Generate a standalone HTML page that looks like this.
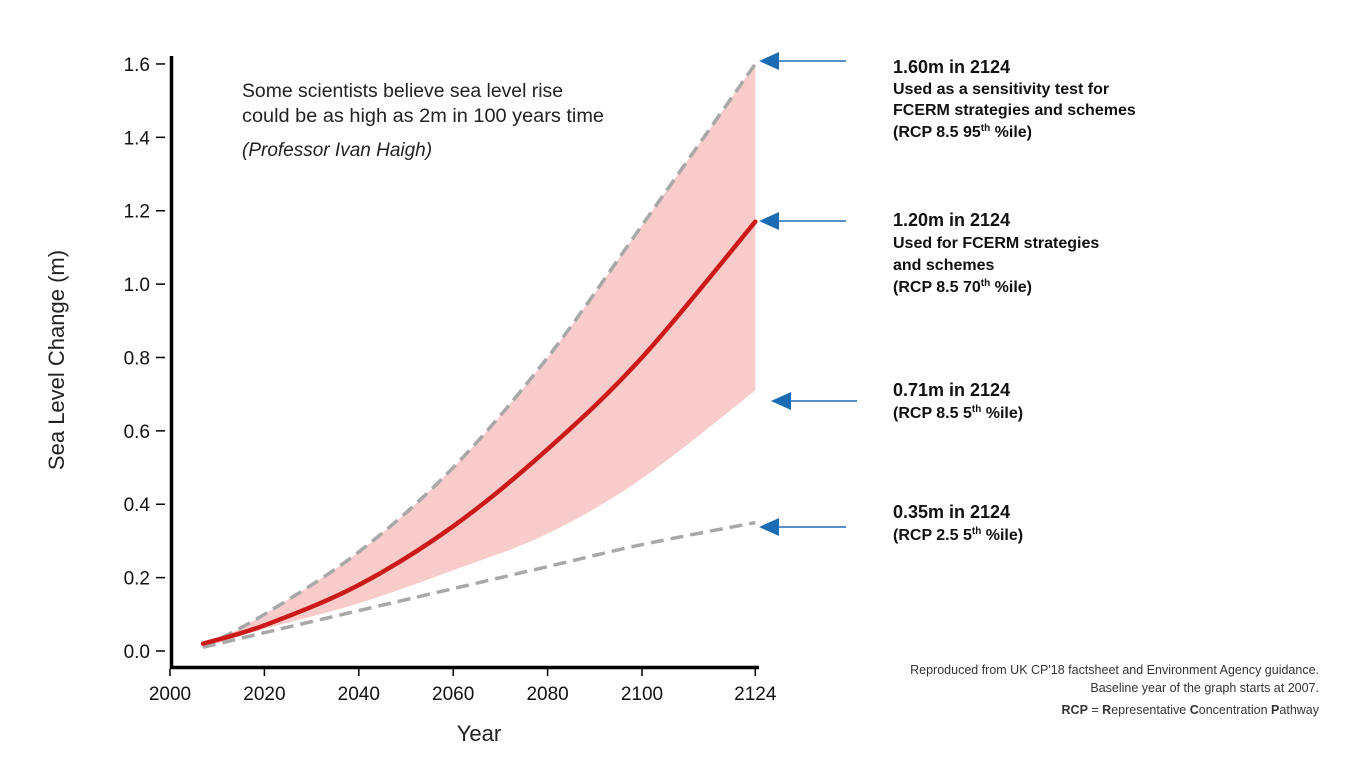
<!DOCTYPE html>
<html><head><meta charset="utf-8"><style>
html,body{margin:0;padding:0;background:#fff;}
svg{display:block;font-family:"Liberation Sans",sans-serif;}
</style></head><body>
<svg id="chart" width="1355" height="771" viewBox="0 0 1355 771" xmlns="http://www.w3.org/2000/svg">
<g id="plot"></g>
<text transform="translate(64,360) rotate(-90)" text-anchor="middle" font-size="22" fill="#222">Sea Level Change (m)</text>
<text x="479" y="741" text-anchor="middle" font-size="22" fill="#222">Year</text>
<g font-size="19" fill="#222">
<text x="242" y="97" textLength="321" lengthAdjust="spacingAndGlyphs">Some scientists believe sea level rise</text>
<text x="242" y="122" textLength="362" lengthAdjust="spacingAndGlyphs">could be as high as 2m in 100 years time</text>
<text x="242" y="156" font-style="italic">(Professor Ivan Haigh)</text>
</g>
<g fill="#111">
<text x="893" y="73" font-size="18" font-weight="bold">1.60m in 2124</text>
<text x="893" y="94" font-size="16" font-weight="bold">Used as a sensitivity test for</text>
<text x="893" y="115" font-size="16" font-weight="bold">FCERM strategies and schemes</text>
<text x="893" y="137" font-size="16" font-weight="bold">(RCP 8.5 95<tspan font-size="10" dy="-6">th</tspan><tspan dy="6"> %ile)</tspan></text>
</g>
<g fill="#111">
<text x="893" y="226" font-size="18" font-weight="bold">1.20m in 2124</text>
<text x="893" y="248" font-size="16" font-weight="bold">Used for FCERM strategies</text>
<text x="893" y="270" font-size="16" font-weight="bold">and schemes</text>
<text x="893" y="292" font-size="16" font-weight="bold">(RCP 8.5 70<tspan font-size="10" dy="-6">th</tspan><tspan dy="6"> %ile)</tspan></text>
</g>
<g fill="#111">
<text x="893" y="396" font-size="18" font-weight="bold">0.71m in 2124</text>
<text x="893" y="418" font-size="16" font-weight="bold">(RCP 8.5 5<tspan font-size="10" dy="-6">th</tspan><tspan dy="6"> %ile)</tspan></text>
</g>
<g fill="#111">
<text x="893" y="518" font-size="18" font-weight="bold">0.35m in 2124</text>
<text x="893" y="540" font-size="16" font-weight="bold">(RCP 2.5 5<tspan font-size="10" dy="-6">th</tspan><tspan dy="6"> %ile)</tspan></text>
</g>
<g font-size="12.5" fill="#333" text-anchor="end">
<text x="1319" y="674">Reproduced from UK CP'18 factsheet and Environment Agency guidance.</text>
<text x="1319" y="692">Baseline year of the graph starts at 2007.</text>
<text x="1319" y="714"><tspan font-weight="bold">RCP</tspan> = <tspan font-weight="bold">R</tspan>epresentative <tspan font-weight="bold">C</tspan>oncentration <tspan font-weight="bold">P</tspan>athway</text>
</g>
<g fill="#1a6db5" stroke="#1a6db5">
<line x1="775" y1="61" x2="846" y2="61" stroke-width="1.5"/><polygon points="759,61 779,52 779,70" stroke="none"/>
<line x1="775" y1="221" x2="846" y2="221" stroke-width="1.5"/><polygon points="759,221 779,212 779,230" stroke="none"/>
<line x1="787" y1="401" x2="857" y2="401" stroke-width="1.5"/><polygon points="771,401 791,392 791,410" stroke="none"/>
<line x1="775" y1="527" x2="846" y2="527" stroke-width="1.5"/><polygon points="759,527 779,518 779,536" stroke="none"/>
</g>
</svg>
<script>
const years = [2007, 2020, 2040, 2060, 2080, 2100, 2124];
const upper95 = [0.01, 0.10, 0.27, 0.50, 0.80, 1.16, 1.60];
const median70 = [0.02, 0.07, 0.18, 0.34, 0.55, 0.80, 1.17];
const lower5 = [0.01, 0.06, 0.13, 0.22, 0.32, 0.47, 0.71];
const rcp25 = [0.01, 0.05, 0.11, 0.17, 0.23, 0.29, 0.35];
const xTicks = [2000, 2020, 2040, 2060, 2080, 2100, 2124];
const yTicks = [0.0, 0.2, 0.4, 0.6, 0.8, 1.0, 1.2, 1.4, 1.6];

const NS = "http://www.w3.org/2000/svg";
const plot = document.getElementById('plot');
function X(yr){ return 170 + (yr - 2000) * 4.72; }
function Y(v){ return 651 - v * 366.9; }
function mk(tag, attrs){ const e = document.createElementNS(NS, tag); for (const k in attrs) e.setAttribute(k, attrs[k]); plot.appendChild(e); return e; }
function smooth(xs, vs){
  const p = xs.map((x,i)=>[X(x),Y(vs[i])]);
  let d = 'M' + p[0][0] + ',' + p[0][1];
  for (let i=0;i<p.length-1;i++){
    const p0=p[Math.max(i-1,0)], p1=p[i], p2=p[i+1], p3=p[Math.min(i+2,p.length-1)];
    const c1=[p1[0]+(p2[0]-p0[0])/6, p1[1]+(p2[1]-p0[1])/6];
    const c2=[p2[0]-(p3[0]-p1[0])/6, p2[1]-(p3[1]-p1[1])/6];
    d += ' C'+c1[0]+','+c1[1]+' '+c2[0]+','+c2[1]+' '+p2[0]+','+p2[1];
  }
  return d;
}
const up = smooth(years, upper95);
const revY = years.slice().reverse(), revL = lower5.slice().reverse();
const lo = smooth(revY, revL).replace(/^M/, 'L');
const band = mk('path', {d: up + ' ' + lo + ' Z', fill: '#f7cccb'});



const l25 = mk('path', {d: smooth(years, rcp25), fill:'none', stroke:'#a8a8a8', 'stroke-width':3.5, 'stroke-dasharray':'13,7'});


const l95 = mk('path', {d: up, fill:'none', stroke:'#a8a8a8', 'stroke-width':3.5, 'stroke-dasharray':'13,7'});


const l70 = mk('path', {d: smooth(years, median70), fill:'none', stroke:'#cc1a1a', 'stroke-width':4.5, 'stroke-linecap':'round'});



const ya = mk('line', {x1:171.5, y1:56, x2:171.5, y2:669, stroke:'#000', 'stroke-width':3.5});


const xa = mk('line', {x1:170, y1:667.5, x2:759, y2:667.5, stroke:'#000', 'stroke-width':3.5});


yTicks.forEach(v => {
  mk('line', {x1:156, y1:Y(v), x2:165, y2:Y(v), stroke:'#000', 'stroke-width':1.5});
  const t = mk('text', {x:150, y:Y(v)+7, 'text-anchor':'end', 'font-size':19, fill:'#111'});
  t.textContent = v.toFixed(1);
  
  
});
xTicks.forEach(yr => {
  mk('line', {x1:X(yr), y1:669, x2:X(yr), y2:676, stroke:'#000', 'stroke-width':1.5});
  const t = mk('text', {x:X(yr), y:700, 'text-anchor':'middle', 'font-size':19, fill:'#111'});
  t.textContent = yr;
  
  
});
</script>
</body></html>
